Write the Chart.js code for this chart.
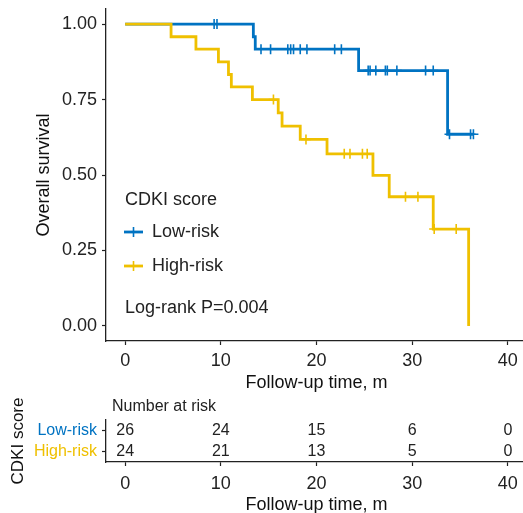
<!DOCTYPE html>
<html lang="en">
<head>
    <meta charset="UTF-8">
    <title>CDKI score survival</title>
    <script src="https://cdn.jsdelivr.net/npm/chart.js"></script>
    <style>
        html, body {
            margin: 0;
            padding: 0;
            background: #fff;
            overflow: hidden;
            width: 523px;
            height: 513px;
        }
        canvas {
            position: absolute;
            left: 0;
        }
        #km { top: 0; }
        #risk { top: 395px; }
    </style>
</head>
<body>
    <canvas id="km" width="540" height="395"></canvas>
    <canvas id="risk" width="540" height="125"></canvas>

    <script>
        // Kaplan-Meier steps (time in months, survival)
        const lowTimes = [0, 13.4, 13.6, 24.4, 33.7, 36.4];
        const lowSurv = [1, 0.958, 0.917, 0.846, 0.635, 0.635];
        const lowCensor = [9.3, 9.6, 14.2, 15.2, 17.0, 17.3, 17.6, 18.3, 19.0, 21.9, 22.6,
                           25.4, 25.6, 26.2, 27.2, 27.4, 28.4, 31.4, 32.2, 33.9, 36.1, 36.4];

        const highTimes = [0, 4.8, 7.4, 9.75, 10.8, 11.1, 13.3, 16.0, 16.4, 18.3, 21.1, 25.9, 27.6, 32.2, 35.9];
        const highSurv = [1, 0.958, 0.917, 0.875, 0.833, 0.792, 0.75, 0.706, 0.662, 0.618, 0.570, 0.499, 0.428, 0.321, 0];
        const highCensor = [15.5, 18.9, 22.9, 23.5, 24.8, 25.3, 29.3, 30.6, 32.3, 34.6];

        // number at risk table
        const riskTimes = [0, 10, 20, 30, 40];
        const riskGroups = ['Low-risk', 'High-risk'];
        const lowRisk = [26, 24, 15, 6, 0];
        const highRisk = [24, 21, 13, 5, 0];

        const yTicks = [0, 0.25, 0.5, 0.75, 1];

        const BLUE = '#0073C2';
        const YELLOW = '#EFC000';
        const FONT = "'Liberation Sans', Arial, sans-serif";

        Chart.defaults.font.family = FONT;
        Chart.defaults.color = '#222';
        Chart.defaults.animation = false;

        function stepPoints(times, surv) {
            return times.map((t, i) => ({ x: t, y: surv[i] }));
        }

        function survAt(times, surv, t) {
            let s = surv[0];
            for (let i = 0; i < times.length; i++) {
                if (times[i] <= t) s = surv[i];
            }
            return s;
        }

        function censorPoints(times, surv, cens) {
            return cens.map(t => ({ x: t, y: survAt(times, surv, t) }));
        }

        // keep the plot area where the axes say, not where label overflow would push it
        function noPad(s) {
            s.paddingTop = 0;
            s.paddingBottom = 0;
            s.paddingLeft = 0;
            s.paddingRight = 0;
        }

        // legend + p-value drawn inside the plot
        const kmLegend = {
            id: 'kmLegend',
            afterDraw(chart) {
                const ctx = chart.ctx;
                ctx.save();
                ctx.font = '18px ' + FONT;
                ctx.fillStyle = '#222';
                ctx.textBaseline = 'middle';
                ctx.textAlign = 'left';
                ctx.fillText('CDKI score', 125, 200);

                const items = [[riskGroups[0], BLUE, 232], [riskGroups[1], YELLOW, 266]];
                items.forEach(([label, color, y]) => {
                    ctx.strokeStyle = color;
                    ctx.lineWidth = 2.8;
                    ctx.beginPath();
                    ctx.moveTo(124, y);
                    ctx.lineTo(143, y);
                    ctx.stroke();
                    ctx.lineWidth = 1.6;
                    ctx.beginPath();
                    ctx.moveTo(133.5, y - 5);
                    ctx.lineTo(133.5, y + 5);
                    ctx.stroke();
                    ctx.fillStyle = '#222';
                    ctx.fillText(label, 152, y);
                });

                ctx.fillText('Log-rank P=0.004', 125, 308);
                ctx.restore();
            }
        };

        new Chart(document.getElementById('km'), {
            type: 'line',
            data: {
                datasets: [
                    {
                        label: 'High-risk',
                        data: stepPoints(highTimes, highSurv),
                        borderColor: YELLOW,
                        borderWidth: 2.8,
                        stepped: true,
                        pointRadius: 0,
                        fill: false,
                        order: 1
                    },
                    {
                        label: 'Low-risk',
                        data: stepPoints(lowTimes, lowSurv),
                        borderColor: BLUE,
                        borderWidth: 2.8,
                        stepped: true,
                        pointRadius: 0,
                        fill: false,
                        order: 2
                    },
                    {
                        type: 'scatter',
                        label: 'High-risk censored',
                        data: censorPoints(highTimes, highSurv, highCensor),
                        borderColor: YELLOW,
                        pointStyle: 'cross',
                        pointRadius: 5,
                        borderWidth: 1.6,
                        order: 0
                    },
                    {
                        type: 'scatter',
                        label: 'Low-risk censored',
                        data: censorPoints(lowTimes, lowSurv, lowCensor),
                        borderColor: BLUE,
                        pointStyle: 'cross',
                        pointRadius: 5,
                        borderWidth: 1.6,
                        order: 0
                    }
                ]
            },
            options: {
                responsive: false,
                layout: { padding: { top: 9, right: 13, left: 0, bottom: 0 } },
                plugins: { legend: { display: false }, tooltip: { enabled: false } },
                scales: {
                    x: {
                        type: 'linear',
                        min: -2,
                        max: 42,
                        afterBuildTicks: s => { s.ticks = riskTimes.map(v => ({ value: v })); },
                        afterFit: s => { s.height = 54; noPad(s); },
                        grid: { drawOnChartArea: false, tickLength: 4, color: '#222', tickWidth: 1.2 },
                        border: { color: '#222', width: 1.3 },
                        ticks: { font: { size: 18 }, padding: 5, color: '#222' },
                        title: {
                            display: true,
                            text: 'Follow-up time, m',
                            font: { size: 18 },
                            color: '#111',
                            padding: { top: 0, bottom: 1 }
                        }
                    },
                    y: {
                        type: 'linear',
                        min: -0.05,
                        max: 1.05,
                        afterBuildTicks: s => { s.ticks = yTicks.map(v => ({ value: v })); },
                        afterFit: s => { s.width = 106; noPad(s); },
                        grid: { drawOnChartArea: false, tickLength: 4, color: '#222', tickWidth: 1.2 },
                        border: { color: '#222', width: 1.3 },
                        ticks: {
                            font: { size: 18 },
                            padding: 5,
                            color: '#222',
                            callback: v => v.toFixed(2)
                        },
                        title: {
                            display: true,
                            text: 'Overall survival',
                            font: { size: 18 },
                            color: '#111',
                            padding: { top: 33, bottom: 0 }
                        }
                    }
                }
            },
            plugins: [kmLegend]
        });

        // risk table: numbers placed at the dataset points
        const riskText = {
            id: 'riskText',
            afterDatasetsDraw(chart) {
                const ctx = chart.ctx;
                ctx.save();
                ctx.font = '16px ' + FONT;
                ctx.fillStyle = '#222';
                ctx.textAlign = 'center';
                ctx.textBaseline = 'middle';
                chart.data.datasets.forEach((ds, di) => {
                    const meta = chart.getDatasetMeta(di);
                    meta.data.forEach((pt, i) => {
                        ctx.fillText(String(ds.data[i].n), pt.x, pt.y);
                    });
                });
                ctx.textAlign = 'left';
                ctx.fillText('Number at risk', 112, 12);
                ctx.restore();
            }
        };

        const groupColors = [BLUE, YELLOW];

        new Chart(document.getElementById('risk'), {
            type: 'scatter',
            data: {
                datasets: [
                    {
                        label: 'Low-risk',
                        data: riskTimes.map((t, i) => ({ x: t, y: riskGroups[0], n: lowRisk[i] })),
                        pointRadius: 0
                    },
                    {
                        label: 'High-risk',
                        data: riskTimes.map((t, i) => ({ x: t, y: riskGroups[1], n: highRisk[i] })),
                        pointRadius: 0
                    }
                ]
            },
            options: {
                responsive: false,
                layout: { padding: { top: 25, right: 13, left: 0, bottom: 0 } },
                plugins: { legend: { display: false }, tooltip: { enabled: false } },
                scales: {
                    x: {
                        type: 'linear',
                        min: -2,
                        max: 42,
                        afterBuildTicks: s => { s.ticks = riskTimes.map(v => ({ value: v })); },
                        afterFit: s => { s.height = 58; noPad(s); },
                        grid: { drawOnChartArea: false, tickLength: 4, color: '#222', tickWidth: 1.2 },
                        border: { color: '#222', width: 1.3 },
                        ticks: { font: { size: 18 }, padding: 7, color: '#222' },
                        title: {
                            display: true,
                            text: 'Follow-up time, m',
                            font: { size: 18 },
                            color: '#111',
                            padding: { top: 0, bottom: 4 }
                        }
                    },
                    y: {
                        type: 'category',
                        labels: riskGroups,
                        offset: true,
                        afterFit: s => { s.width = 106; noPad(s); },
                        grid: { drawOnChartArea: false, tickLength: 4, color: '#222', tickWidth: 1.2, offset: false },
                        border: { color: '#222', width: 1.3 },
                        ticks: {
                            font: { size: 16 },
                            padding: 5,
                            autoSkip: false,
                            color: c => groupColors[c.index]
                        },
                        title: {
                            display: true,
                            text: 'CDKI score',
                            font: { size: 17 },
                            color: '#111',
                            padding: { top: 8, bottom: 0 }
                        }
                    }
                }
            },
            plugins: [riskText]
        });
    </script>
</body>
</html>
